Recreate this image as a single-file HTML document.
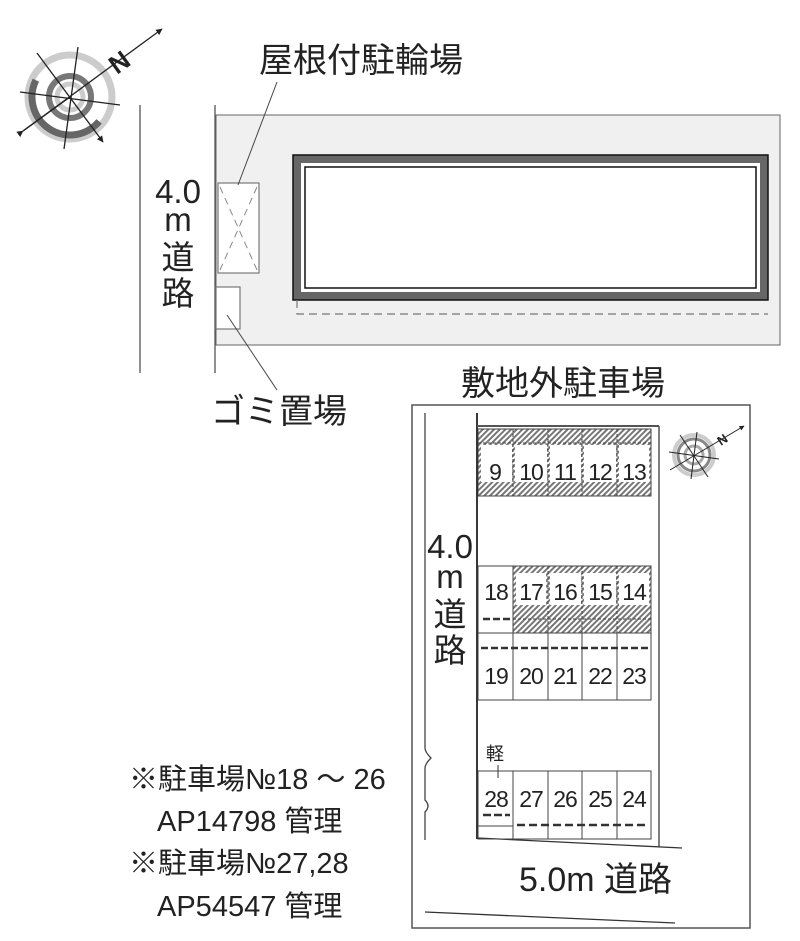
<!DOCTYPE html>
<html><head><meta charset="utf-8"><style>
html,body{margin:0;padding:0;background:#fff}
svg{display:block}
text{font-family:"Liberation Sans","Noto Sans CJK JP",sans-serif;fill:#222}
</style></head><body>
<svg width="800" height="941" viewBox="0 0 800 941" xmlns="http://www.w3.org/2000/svg">
<defs>
<pattern id="h" width="4" height="4" patternUnits="userSpaceOnUse" patternTransform="rotate(45)">
<rect width="4" height="4" fill="#fff"/><rect width="2" height="4" fill="#777"/>
</pattern>
<marker id="ar" viewBox="0 0 10 10" refX="9" refY="5" markerWidth="5" markerHeight="5" orient="auto"><path d="M0,0L10,5L0,10z" fill="#222"/></marker>
</defs>

<!-- top compass -->
<g transform="translate(70,97)">
<circle r="42" fill="none" stroke="#ccc" stroke-width="7"/>
<circle r="38" fill="none" stroke="#666" stroke-width="7" stroke-dasharray="110 400" transform="rotate(40)"/>
<circle r="21" fill="none" stroke="#777" stroke-width="6"/>
<circle r="13" fill="none" stroke="#ccc" stroke-width="5"/>
<g stroke="#222" stroke-width="1.3">
<line x1="-47" y1="34" x2="92" y2="-68" marker-end="url(#ar)"/>
<line x1="-47" y1="34" x2="0" y2="0" marker-start="url(#ar)"/>
<line x1="-33" y1="-44" x2="33" y2="45" marker-end="url(#ar)"/>
<line x1="-50" y1="-5" x2="50" y2="8"/>
<line x1="8" y1="-50" x2="-6" y2="52"/>
</g>
<text x="47" y="-22" font-size="26" font-weight="bold" transform="rotate(-36 47 -22)">N</text>
</g>

<!-- top site -->
<line x1="140" y1="105" x2="140" y2="373" stroke="#555" stroke-width="1.3"/>
<line x1="215" y1="105" x2="215" y2="373" stroke="#555" stroke-width="1.3"/>
<rect x="216" y="115" width="564" height="230" fill="#f0f0f0" stroke="#666" stroke-width="1"/>
<rect x="297" y="159" width="467" height="137" fill="#fff" stroke="#666" stroke-width="8"/>
<rect x="293" y="155" width="475" height="145" fill="none" stroke="#111" stroke-width="1.5"/>
<rect x="305" y="167" width="451" height="121" fill="none" stroke="#111" stroke-width="1.5"/>
<polyline points="297,300 297,314 768,314" fill="none" stroke="#777" stroke-width="1.2" stroke-dasharray="8 5"/>
<rect x="218" y="183" width="41" height="90" fill="#fff" stroke="#777" stroke-width="1.2"/>
<line x1="220" y1="187" x2="257" y2="270" stroke="#888" stroke-dasharray="7 5"/>
<line x1="257" y1="187" x2="220" y2="270" stroke="#888" stroke-dasharray="7 5"/>
<rect x="216" y="287" width="24" height="42" fill="#fff" stroke="#777" stroke-width="1.2"/>
<line x1="277" y1="82" x2="238" y2="185" stroke="#444"/>
<line x1="227" y1="315" x2="277" y2="390" stroke="#444"/>
<text x="259" y="72" font-size="34">屋根付駐輪場</text>
<text x="211" y="423" font-size="34">ゴミ置場</text>
<g font-size="33" text-anchor="middle">
<text x="178" y="203">4.0</text>
<text x="178" y="231">m</text>
<text x="178" y="269">道</text>
<text x="178" y="305">路</text>
</g>

<!-- bottom site -->
<text x="461" y="395" font-size="34">敷地外駐車場</text>
<rect x="412" y="405" width="338" height="523" fill="none" stroke="#555" stroke-width="1.5"/>
<path d="M425,413 L425,748 Q425,752 431,758 Q425,764 425,768 L425,800 Q431,806 425,812 L425,840" fill="none" stroke="#444" stroke-width="1.3"/>
<line x1="477" y1="413" x2="477" y2="839" stroke="#222" stroke-width="1.8"/>
<line x1="477" y1="426" x2="659" y2="426" stroke="#555" stroke-width="2"/>
<line x1="659" y1="426" x2="659" y2="847" stroke="#555" stroke-width="1.5"/>
<line x1="478" y1="838" x2="682" y2="848" stroke="#333" stroke-width="1.3"/>
<line x1="425" y1="912" x2="675" y2="923" stroke="#333" stroke-width="1.3"/>

<!-- row 9-13 -->
<rect x="478" y="429" width="173" height="67" fill="url(#h)" stroke="#444"/>
<g fill="#fff">
<rect x="481" y="445" width="31" height="37"/><rect x="515" y="445" width="32" height="37"/><rect x="550" y="445" width="31" height="37"/><rect x="584" y="445" width="32" height="37"/><rect x="619" y="445" width="30" height="37"/>
</g>
<g stroke="#444" stroke-dasharray="3 2"><line x1="513" y1="429" x2="513" y2="496"/><line x1="548" y1="429" x2="548" y2="496"/><line x1="582" y1="429" x2="582" y2="496"/><line x1="617" y1="429" x2="617" y2="496"/>
<line x1="478" y1="443" x2="651" y2="443"/></g>
<g font-size="23" text-anchor="middle" letter-spacing="-1"><text x="495" y="480">9</text><text x="531" y="480">10</text><text x="565" y="480">11</text><text x="600" y="480">12</text><text x="634" y="480">13</text></g>

<!-- row 14-18 -->
<rect x="513" y="566" width="138" height="67" fill="url(#h)"/>
<g fill="#fff"><rect x="516" y="573" width="30" height="32"/><rect x="550" y="573" width="31" height="32"/><rect x="584" y="573" width="32" height="32"/><rect x="619" y="573" width="30" height="32"/></g>
<rect x="478" y="566" width="173" height="134" fill="none" stroke="#444"/>
<line x1="478" y1="633" x2="651" y2="633" stroke="#444"/>
<g stroke="#444"><line x1="513" y1="566" x2="513" y2="700"/><line x1="548" y1="633" x2="548" y2="700"/><line x1="582" y1="633" x2="582" y2="700"/><line x1="617" y1="633" x2="617" y2="700"/></g>
<g stroke="#444" stroke-dasharray="3 2"><line x1="548" y1="566" x2="548" y2="633"/><line x1="582" y1="566" x2="582" y2="633"/><line x1="617" y1="566" x2="617" y2="633"/><line x1="513" y1="619" x2="651" y2="619"/></g>
<line x1="483" y1="619" x2="510" y2="619" stroke="#333" stroke-width="2.5" stroke-dasharray="7 3"/>
<line x1="481" y1="648" x2="649" y2="648" stroke="#333" stroke-width="2.5" stroke-dasharray="7 3"/>
<g font-size="23" text-anchor="middle" letter-spacing="-1"><text x="496" y="600">18</text><text x="531" y="600">17</text><text x="565" y="600">16</text><text x="600" y="600">15</text><text x="634" y="600">14</text>
<text x="496" y="684">19</text><text x="531" y="684">20</text><text x="565" y="684">21</text><text x="600" y="684">22</text><text x="634" y="684">23</text></g>
<g font-size="33" text-anchor="middle"><text x="450" y="558">4.0</text><text x="450" y="588">m</text><text x="450" y="626">道</text><text x="450" y="662">路</text></g>

<!-- row 24-28 -->
<text x="486" y="760" font-size="18">軽</text>
<line x1="498" y1="765" x2="498" y2="778" stroke="#333"/>
<rect x="478" y="771" width="173" height="68" fill="none" stroke="#444"/>
<g stroke="#444"><line x1="513" y1="771" x2="513" y2="839"/><line x1="548" y1="771" x2="548" y2="839"/><line x1="582" y1="771" x2="582" y2="839"/><line x1="617" y1="771" x2="617" y2="839"/><line x1="478" y1="826" x2="513" y2="826"/></g>
<line x1="483" y1="815" x2="510" y2="815" stroke="#333" stroke-width="2.5" stroke-dasharray="8 3"/>
<line x1="517" y1="825" x2="649" y2="825" stroke="#333" stroke-width="2.5" stroke-dasharray="8 4"/>
<g font-size="23" text-anchor="middle" letter-spacing="-1"><text x="496" y="807">28</text><text x="531" y="807">27</text><text x="565" y="807">26</text><text x="600" y="807">25</text><text x="634" y="807">24</text></g>
<text x="519" y="891" font-size="34">5.0m 道路</text>

<!-- small compass -->
<g transform="translate(694,455)">
<circle r="20" fill="none" stroke="#ccc" stroke-width="4"/>
<circle r="16" fill="none" stroke="#888" stroke-width="3"/>
<circle r="9" fill="none" stroke="#aaa" stroke-width="3"/>
<g stroke="#222" stroke-width="1">
<line x1="-24" y1="15" x2="50" y2="-29" marker-end="url(#ar)"/>
<line x1="-14" y1="-20" x2="14" y2="22"/>
<line x1="-25" y1="-3" x2="25" y2="4"/>
<line x1="3" y1="-23" x2="-3" y2="24"/>
</g>
<text x="27" y="-9" font-size="13" font-weight="bold" transform="rotate(-34 27 -9)">N</text>
</g>

<!-- notes -->
<g font-size="29">
<text x="129" y="789">※駐車場№18 ～ 26</text>
<text x="157" y="831">AP14798 管理</text>
<text x="129" y="873">※駐車場№27,28</text>
<text x="157" y="916">AP54547 管理</text>
</g>
</svg>
</body></html>
